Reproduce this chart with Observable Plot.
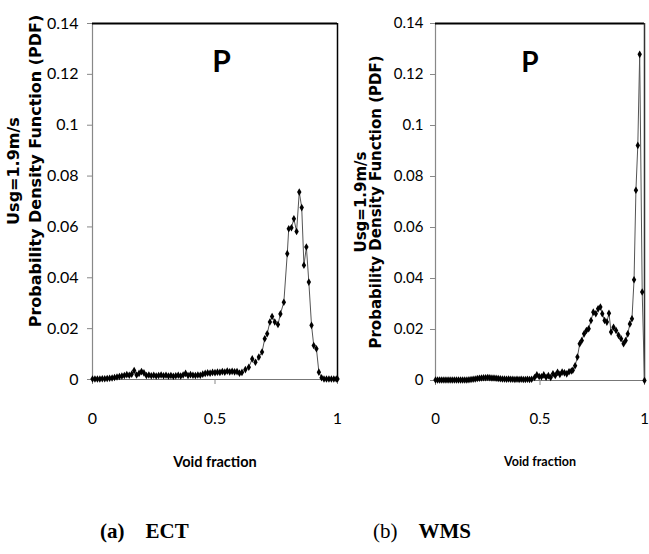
<!DOCTYPE html>
<html>
<head>
<meta charset="utf-8">
<script src="https://cdn.jsdelivr.net/npm/d3@7"></script>
<script src="https://cdn.jsdelivr.net/npm/@observablehq/plot@0.6"></script>
<style>
  html, body { margin: 0; padding: 0; background: #fff; }
  #wrap { position: relative; width: 649px; height: 554px; background: #fff; overflow: hidden; }
  .panel { position: absolute; top: 0; }
  .ytitle { position: absolute; transform: translate(-50%, -50%) rotate(-90deg); white-space: nowrap; text-align: center;
            font-family: "DejaVu Sans", sans-serif; font-weight: bold; font-size: 16px; line-height: 22px; color: #000; }
  .xtitle { position: absolute; transform: translateX(-50%); white-space: nowrap; font-family: Lato, sans-serif; font-weight: bold; color: #000; }
  .caption { position: absolute; top: 519px; white-space: nowrap; font-family: "Liberation Serif", "Times New Roman", serif; font-size: 21px; color: #000; }
  .caption b { font-weight: bold; }
</style>
</head>
<body>
<div id="wrap"></div>
<script>
// ---- data ----
const ectX = [0.00,0.01,0.02,0.03,0.04,0.05,0.06,0.07,0.08,0.09,0.10,0.11,0.12,0.13,0.14,0.15,0.16,0.17,0.18,0.19,
  0.20,0.21,0.22,0.23,0.24,0.25,0.26,0.27,0.28,0.29,0.30,0.31,0.32,0.33,0.34,0.35,0.36,0.37,0.38,0.39,
  0.40,0.41,0.42,0.43,0.44,0.45,0.46,0.47,0.48,0.49,0.50,0.51,0.52,0.53,0.54,0.55,0.56,0.57,0.58,0.59,
  0.60,0.61,0.624,0.638,0.652,0.665,0.679,0.692,0.703,0.713,0.724,0.733,0.744,0.757,0.767,0.781,0.795,0.801,
  0.812,0.822,0.833,0.844,0.854,0.863,0.873,0.883,0.894,0.903,0.914,0.924,0.935,0.945,0.955,0.965,0.975,0.985,0.995,1.000];
const ectPdf = [0.0002,0.0002,0.0002,0.0002,0.0003,0.0003,0.0004,0.0005,0.0006,0.0008,0.0010,0.0012,0.0014,0.0016,0.0019,0.0017,0.0021,0.0035,0.0018,0.0024,
  0.0031,0.0026,0.0016,0.0018,0.0015,0.0017,0.0014,0.0016,0.0018,0.0015,0.0017,0.0014,0.0016,0.0013,0.0015,0.0017,0.0014,0.0018,0.0024,0.0016,
  0.0019,0.0017,0.0016,0.0018,0.0017,0.0021,0.0024,0.0026,0.0025,0.0028,0.0027,0.0029,0.0028,0.0031,0.0029,0.0033,0.0030,0.0032,0.0030,0.0031,
  0.0025,0.0028,0.0039,0.0048,0.0081,0.0068,0.0088,0.0108,0.0160,0.0180,0.0226,0.0248,0.0226,0.0216,0.0258,0.0304,0.0495,0.0593,
  0.0597,0.0632,0.0582,0.0737,0.0676,0.0449,0.0521,0.0383,0.0213,0.0134,0.0121,0.0029,0.0007,0.0002,0.0002,0.0002,0.0002,0.0002,0.0002,0.0002];

const wmsX = [0.00,0.01,0.02,0.03,0.04,0.05,0.06,0.07,0.08,0.09,0.10,0.11,0.12,0.13,0.14,0.15,0.16,0.17,0.18,0.19,
  0.20,0.21,0.22,0.23,0.24,0.25,0.26,0.27,0.28,0.29,0.30,0.31,0.32,0.33,0.34,0.35,0.36,0.37,0.38,0.39,
  0.40,0.41,0.42,0.43,0.44,0.45,0.46,0.474,0.485,0.496,0.507,0.518,0.529,0.540,0.551,0.562,0.573,0.584,0.595,0.606,
  0.617,0.628,0.639,0.650,0.657,0.668,0.679,0.690,0.700,0.711,0.722,0.733,0.744,0.755,0.767,0.778,0.789,0.798,
  0.809,0.820,0.830,0.840,0.852,0.864,0.876,0.888,0.900,0.910,0.920,0.930,0.940,0.950,0.959,0.968,0.977,0.989,1.000];
const wmsPdf = [0.0002,0.0002,0.0002,0.0002,0.0002,0.0002,0.0002,0.0002,0.0002,0.0002,0.0002,0.0002,0.0002,0.0002,0.0002,0.0002,0.0003,0.0004,0.0005,0.0006,
  0.0008,0.0009,0.0010,0.0011,0.0011,0.0012,0.0011,0.0010,0.0010,0.0009,0.0008,0.0007,0.0006,0.0006,0.0005,0.0006,0.0005,0.0005,0.0004,0.0005,
  0.0004,0.0005,0.0004,0.0004,0.0005,0.0004,0.0005,0.0012,0.0022,0.0016,0.0015,0.0022,0.0013,0.0019,0.0012,0.0026,0.0020,0.0032,0.0024,0.0033,
  0.0030,0.0026,0.0034,0.0037,0.0040,0.0058,0.0092,0.0144,0.0157,0.0183,0.0196,0.0203,0.0235,0.0268,0.0262,0.0281,0.0288,0.0262,
  0.0235,0.0229,0.0264,0.0190,0.0209,0.0196,0.0177,0.0164,0.0144,0.0157,0.0183,0.0222,0.0242,0.0395,0.0746,0.0922,0.1279,0.0347,0.0000];

const xTicks = [0, 0.5, 1];
const yTicks = [0, 0.02, 0.04, 0.06, 0.08, 0.1, 0.12, 0.14];
const xDomain = [0, 1];
const yDomain = [0, 0.14];
const panelLetter = "P";
const letterPosECT = [0.527, 0.121];
const letterPosWMS = [0.452, 0.121];
const yTitle1 = "Usg=1.9m/s";
const yTitle2 = "Probability Density Function (PDF)";
const xTitle = "Void fraction";

function makePanel(xs, ys, letterPos, opts) {
  const data = xs.map((x, i) => ({x, y: ys[i]}));
  return Plot.plot({
    width: opts.width, height: 480,
    marginLeft: opts.ml, marginRight: opts.mr, marginTop: 23, marginBottom: opts.mb,
    style: {fontFamily: "Lato, sans-serif", fontSize: "15px", color: "#000", background: "transparent", overflow: "visible"},
    x: {domain: xDomain, axis: null},
    y: {domain: yDomain, axis: null},
    marks: [
      Plot.ruleX([xDomain[0]], {stroke: "#888", strokeWidth: 1.2}),
      Plot.ruleY([yDomain[0]], {stroke: "#777", strokeWidth: 1.2}),
      Plot.ruleY([yDomain[1]], {stroke: "#000", strokeWidth: 2}),
      Plot.ruleX([xDomain[1]], {stroke: opts.rightStroke, strokeWidth: 1.5}),
      Plot.axisX({ticks: xTicks, tickSize: 5, tickPadding: 28, stroke: "#888", tickFormat: d => String(d), label: null, fontSize: opts.tickFont}),
      Plot.axisY({ticks: yTicks, tickSize: 5, tickPadding: opts.ytp, stroke: "#888", tickFormat: d => String(+d.toFixed(2)), label: null, fontSize: opts.tickFont}),
      Plot.line(data, {x: "x", y: "y", stroke: "#555", strokeWidth: 1}),
      Plot.dot(data, {x: "x", y: "y", symbol: "diamond", r: 2.3, fill: "#000", stroke: "none"}),
      Plot.text([panelLetter], {x: () => letterPos[0], y: () => letterPos[1], text: d => d, lineAnchor: "bottom",
        fontSize: opts.letterSize, fontWeight: "bold", fontFamily: "Lato, sans-serif"})
    ]
  });
}

const wrap = document.getElementById("wrap");

const left = makePanel(ectX, ectPdf, letterPosECT, {width: 345, ml: 92, mr: 8, mb: 101, rightStroke: "#000", ytp: 9, tickFont: 16, letterSize: 30});
left.classList.add("panel"); left.style.left = "0px";
wrap.appendChild(left);

const right = makePanel(wmsX, wmsPdf, letterPosWMS, {width: 304, ml: 90, mr: 5, mb: 100, rightStroke: "#333", ytp: 7, tickFont: 15, letterSize: 28});
right.classList.add("panel"); right.style.left = "345px";
wrap.appendChild(right);

function addDiv(cls, html, css) {
  const d = document.createElement("div");
  d.className = cls; d.innerHTML = html;
  Object.assign(d.style, css);
  wrap.appendChild(d);
}
addDiv("ytitle", yTitle1 + "<br>" + yTitle2, {left: "25px", top: "171px"});
addDiv("ytitle", yTitle1 + "<br>" + yTitle2, {left: "369px", top: "202px", lineHeight: "15px", fontSize: "15px"});
addDiv("xtitle", xTitle, {left: "215px", top: "453px", fontSize: "14.5px"});
addDiv("xtitle", xTitle, {left: "540px", top: "454px", fontSize: "12.5px"});
addDiv("caption", "<b>(a)</b>&nbsp;&nbsp;&nbsp;&nbsp;<b>ECT</b>", {left: "100px"});
addDiv("caption", "(b)&nbsp;&nbsp;&nbsp;&nbsp;<b>WMS</b>", {left: "373px"});
</script>
</body>
</html>
